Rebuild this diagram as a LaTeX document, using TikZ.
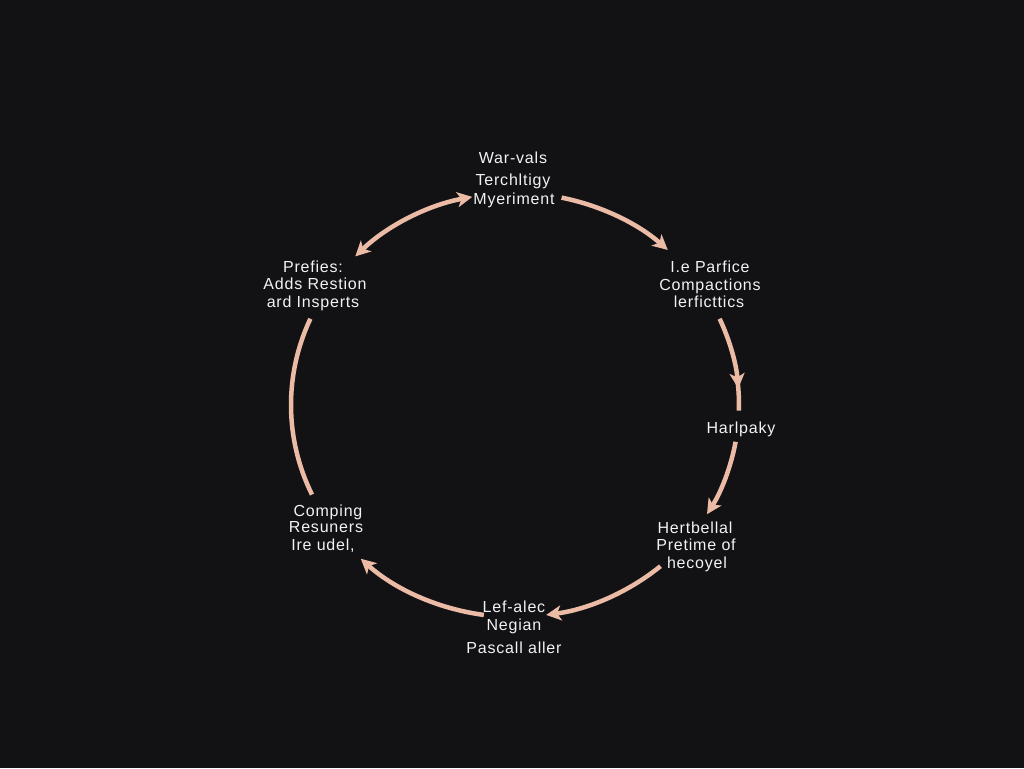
\documentclass[tikz,border=0pt]{standalone}
\usepackage{fontspec}
\setmainfont{Liberation Sans}[LetterSpace=5]
\usetikzlibrary{arrows.meta,calc}
\definecolor{bgc}{HTML}{121215}
\definecolor{arc}{HTML}{EBBBA6}
\definecolor{txt}{HTML}{F2F2F2}
\begin{document}
\begin{tikzpicture}[x=1pt,y=1pt,
  lbl/.style={anchor=base,text=txt,inner sep=0pt,font=\fontsize{16}{18}\selectfont},
  conn/.style={draw=arc,line width=4.5pt},
  tipa/.style={-{Stealth[length=15pt,width=15pt,inset=4pt]}},
  tipb/.style={{Stealth[length=15pt,width=15pt,inset=4pt]}-{Stealth[length=15pt,width=15pt,inset=4pt]}}]
\fill[bgc] (0,0) rectangle (1024,768);
\useasboundingbox (0,0) rectangle (1024,768);
\coordinate (C) at (515,363);
% labels
\node[lbl] (t1) at (513,604.5) {War-vals};
\node[lbl] (t2) at (513,582.5) {Terchltigy};
\node[lbl] (t3) at (514,563.5) {Myeriment};
\node[lbl] (l1) at (313,495.5) {Prefies:};
\node[lbl] (l2) at (315,478.5) {Adds Restion};
\node[lbl] (l3) at (313,460.5) {ard Insperts};
\node[lbl] (r1) at (710,495.5) {I.e Parfice};
\node[lbl] (r2) at (710,477.5) {Compactions};
\node[lbl] (r3) at (709,460.5) {lerficttics};
\node[lbl] (h1) at (741,334.5) {Harlpaky};
\node[lbl] (b1) at (328,251.5) {Comping};
\node[lbl] (b2) at (326,235.5) {Resuners};
\node[lbl] (b3) at (323,217.5) {Ire udel,};
\node[lbl] (p1) at (695,234.5) {Hertbellal};
\node[lbl] (p2) at (696,217.5) {Pretime of};
\node[lbl] (p3) at (697,199.5) {hecoyel};
\node[lbl] (s1) at (514,155.5) {Lef-alec};
\node[lbl] (s2) at (514,137.5) {Negian};
\node[lbl] (s3) at (514,114.5) {Pascall aller};
% arc end points
\coordinate (a1s) at ($(C)+(135.5:224pt and 212pt)$);
\coordinate (a2s) at ($(C)+(78:224pt and 212pt)$);
\coordinate (a3s) at ($(C)+(24:224pt and 212pt)$);
\coordinate (a3m) at ($(C)+(8:224pt and 212pt)$);
\coordinate (a4s) at ($(C)+(-10:224pt and 212pt)$);
\coordinate (a5s) at ($(C)+(-49.5:224pt and 212pt)$);
\coordinate (a6s) at ($(C)+(-98:224pt and 212pt)$);
\coordinate (a7s) at ($(C)+(156:224pt and 212pt)$);
% connectors
\draw[conn,tipb] (a1s) arc[start angle=135.5,end angle=101,x radius=224pt,y radius=212pt];
\draw[conn,tipa] (a2s) arc[start angle=78,end angle=47,x radius=224pt,y radius=212pt];
\draw[conn] (a3m) arc[start angle=8,end angle=-1.5,x radius=224pt,y radius=212pt];
\draw[conn,tipa] (a3s) arc[start angle=24,end angle=4.5,x radius=224pt,y radius=212pt];
\draw[conn,tipa] (a4s) arc[start angle=-10,end angle=-31,x radius=224pt,y radius=212pt];
\draw[conn,tipa] (a5s) arc[start angle=-49.5,end angle=-82,x radius=224pt,y radius=212pt];
\draw[conn,tipa] (a6s) arc[start angle=-98,end angle=-133.5,x radius=224pt,y radius=212pt];
\draw[conn] (a7s) arc[start angle=156,end angle=205,x radius=224pt,y radius=212pt];
\end{tikzpicture}
\end{document}
